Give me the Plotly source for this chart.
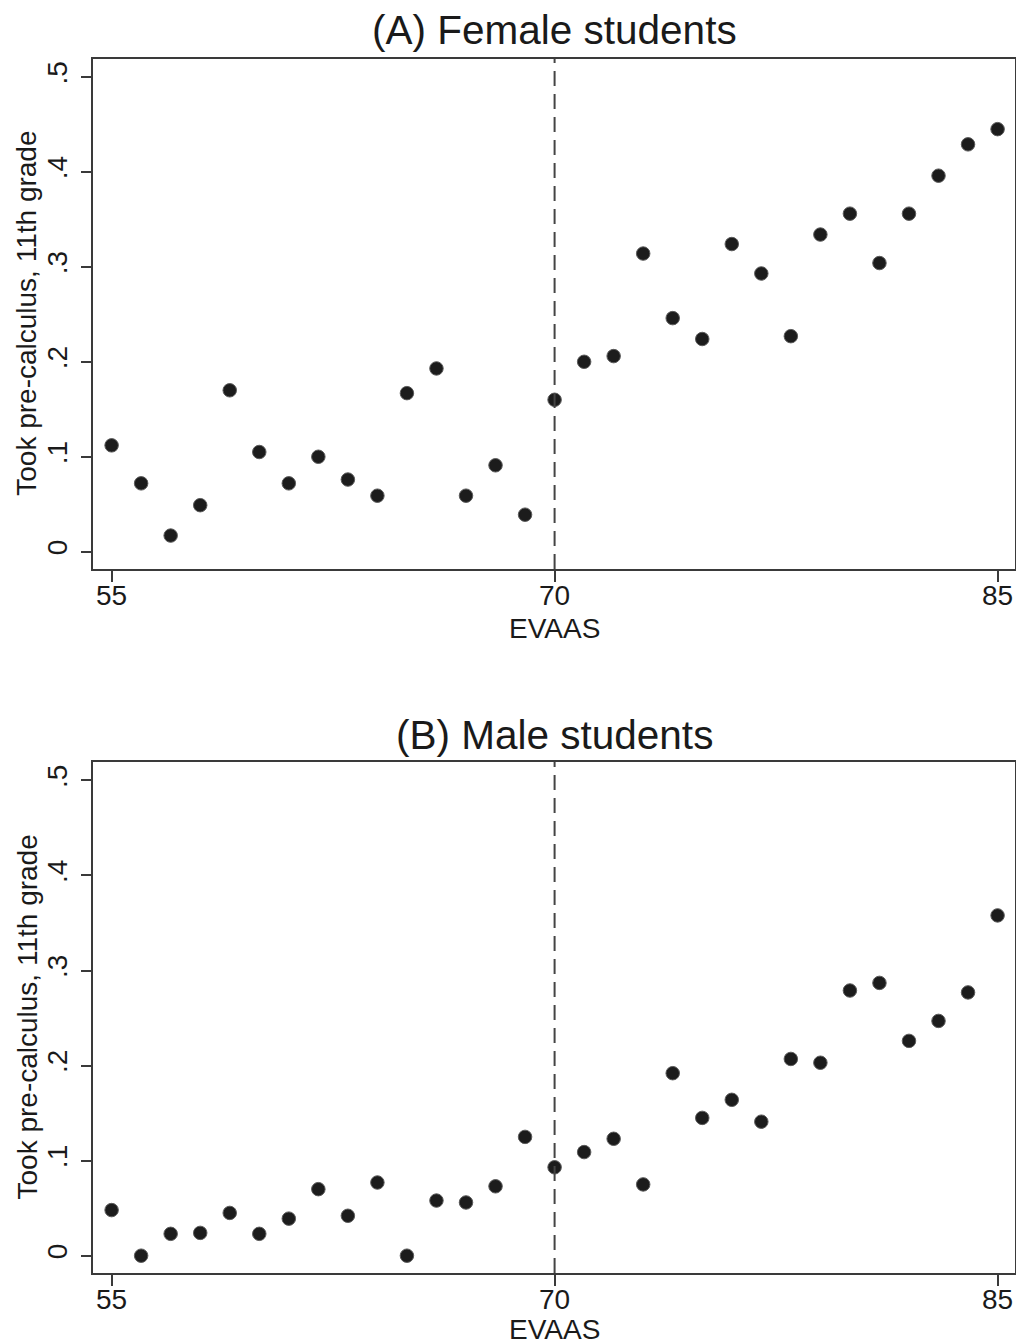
import plotly.graph_objects as go

evaas = list(range(55, 86))
female = [0.112, 0.072, 0.017, 0.049, 0.170, 0.105, 0.072, 0.100, 0.076, 0.059,
          0.167, 0.193, 0.059, 0.091, 0.039, 0.160, 0.200, 0.206, 0.314, 0.246,
          0.224, 0.324, 0.293, 0.227, 0.334, 0.356, 0.304, 0.356, 0.396, 0.429, 0.445]
male = [0.048, 0.000, 0.023, 0.024, 0.045, 0.023, 0.039, 0.070, 0.042, 0.077,
        0.000, 0.058, 0.056, 0.073, 0.125, 0.093, 0.109, 0.123, 0.075, 0.192,
        0.145, 0.164, 0.141, 0.207, 0.203, 0.279, 0.287, 0.226, 0.247, 0.277, 0.358]
panel_titles = ["(A) Female students", "(B) Male students"]
x_ticks = [55, 70, 85]
y_ticks = [0, 0.1, 0.2, 0.3, 0.4, 0.5]
y_tick_text = ["0", ".1", ".2", ".3", ".4", ".5"]
cutoff = 70
x_title = "EVAAS"
y_title = "Took pre-calculus, 11th grade"

W, H = 1016, 1344
FONT = "Liberation Sans, Arial, Helvetica, sans-serif"
TXT = "#1a1a1a"
AX = "#3a3a3a"

def py(pix):
    return (H - pix) / H

fig = go.Figure()

panels = [
    dict(data=female, top=58.5, bot=569.0, title_y=30, xt_y=628, xa="x", ya="y"),
    dict(data=male, top=762.0, bot=1273.0, title_y=735, xt_y=1329, xa="x2", ya="y2"),
]
xdom = [93.3 / W, 1015.0 / W]
xr = [54.38, 85.59]
yr = [-0.0182, 0.5194]

for i, p in enumerate(panels):
    fig.add_trace(go.Scatter(
        x=evaas, y=p["data"], mode="markers", xaxis=p["xa"], yaxis=p["ya"],
        marker=dict(size=13.5, color="#1c1c1c", line=dict(color="#5a5a5a", width=1)),
        showlegend=False, hoverinfo="x+y"))
    fig.add_trace(go.Scatter(
        x=[cutoff, cutoff], y=yr, mode="lines", xaxis=p["xa"], yaxis=p["ya"],
        line=dict(color="#444444", width=2, dash="15px,8px"),
        showlegend=False, hoverinfo="skip"))
    suffix = "" if i == 0 else str(i + 1)
    axis_common = dict(showgrid=False, zeroline=False, showline=True, mirror=True,
                       linecolor=AX, linewidth=1.5, ticks="outside", ticklen=11,
                       tickwidth=1.5, tickcolor=AX,
                       tickfont=dict(family=FONT, size=28, color=TXT))
    fig.layout["xaxis" + suffix] = dict(
        domain=xdom, range=xr, tickmode="array", tickvals=x_ticks,
        anchor="y" + suffix, ticklabelstandoff=-10, **axis_common)
    fig.layout["yaxis" + suffix] = dict(
        domain=[py(p["bot"]), py(p["top"])], range=yr, tickmode="array",
        tickvals=y_ticks, ticktext=y_tick_text, tickangle=-90,
        anchor="x" + suffix, ticklabelstandoff=2, **axis_common)
    fig.add_annotation(text=panel_titles[i], x=(93.3 + 1015) / 2 / W, y=py(p["title_y"]),
                       xref="paper", yref="paper", showarrow=False,
                       xanchor="center", yanchor="middle",
                       font=dict(family=FONT, size=40.5, color=TXT))
    fig.add_annotation(text=x_title, x=554.3 / W, y=py(p["xt_y"]),
                       xref="paper", yref="paper", showarrow=False,
                       xanchor="center", yanchor="middle",
                       font=dict(family=FONT, size=28, color=TXT))
    fig.add_annotation(text=y_title, x=27 / W, y=py((p["top"] + p["bot"]) / 2),
                       xref="paper", yref="paper", showarrow=False, textangle=-90,
                       xanchor="center", yanchor="middle",
                       font=dict(family=FONT, size=28, color=TXT))

fig.update_layout(width=W, height=H, margin=dict(l=0, r=0, t=0, b=0),
                  paper_bgcolor="white", plot_bgcolor="white")

fig.write_html("out.html", config={"displayModeBar": False},
               post_script="document.body.style.margin='0';document.body.style.overflow='hidden';")
